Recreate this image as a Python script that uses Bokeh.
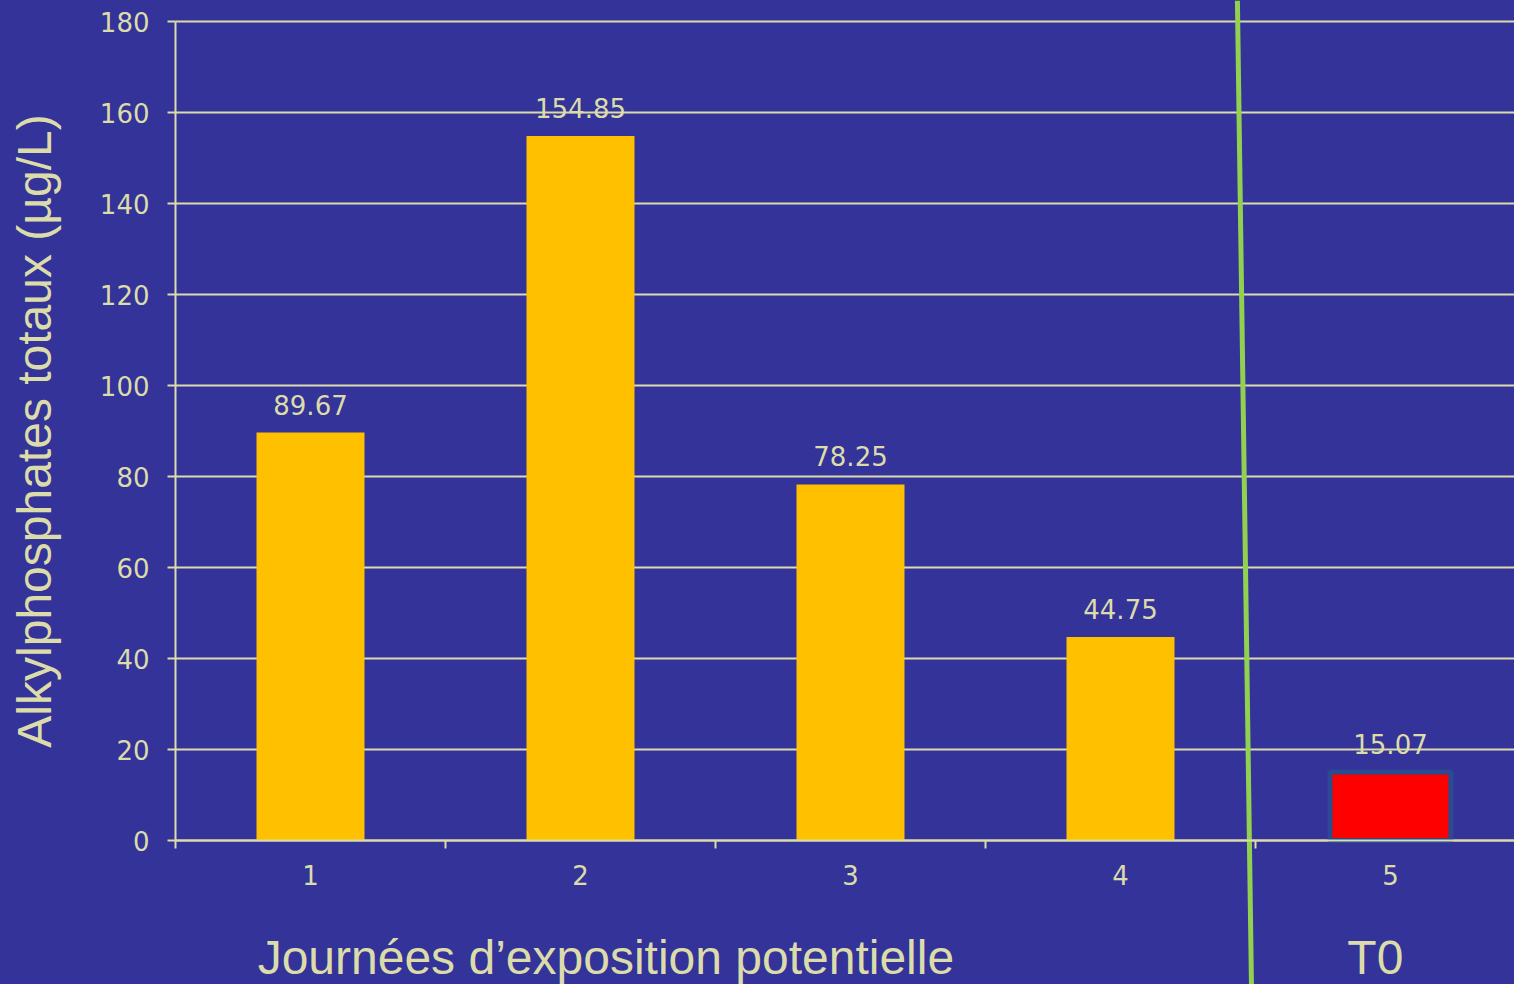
from bokeh.plotting import figure
from bokeh.models import ColumnDataSource, FixedTicker, Range1d, Label, Grid
from bokeh.core.properties import value
from bokeh.embed import file_html
from bokeh.resources import INLINE

# ---- data ----
days = [1, 2, 3, 4]
day_values = [89.67, 154.85, 78.25, 44.75]
t0_day = [5]
t0_value = [15.07]
x_ticks = [1, 2, 3, 4, 5]
x_tick_labels = ["1", "2", "3", "4", "5"]
y_ticks = [0, 20, 40, 60, 80, 100, 120, 140, 160, 180]
y_title = "Alkylphosphates totaux (µg/L)"
group_labels = ["Journées d\u2019exposition potentielle", "T0"]
group_label_x = [2.094, 4.944]
divider_x = [4.433, 4.485]
divider_y = [184.6, -31.6]

BG = "#333399"
FG = "#DCDCAA"

# layout: 270 px per category, 4.55 px per unit
X0, X1 = 0.5 - 175 / 270, 0.5 + 1339 / 270
Y0, Y1 = -144 / 4.55, 180 + 21 / 4.55

p = figure(width=1514, height=984, output_backend="svg", toolbar_location=None,
           x_range=Range1d(X0, X1), y_range=Range1d(Y0, Y1), min_border=0)
p.background_fill_color = BG
p.border_fill_color = BG
p.outline_line_color = None

src = ColumnDataSource(dict(x=days, top=day_values,
                            lab=[f"{v:.2f}" for v in day_values]))
src_t0 = ColumnDataSource(dict(x=t0_day, top=t0_value,
                               lab=[f"{v:.2f}" for v in t0_value]))

# grid lines
p.xgrid.grid_line_color = None
if "cross_bounds" in Grid.properties():
    p.ygrid.ticker = FixedTicker(ticks=y_ticks)
    p.ygrid.cross_bounds = (0.5, X1)
    p.ygrid.grid_line_color = FG
    p.ygrid.grid_line_width = 2
else:
    p.ygrid.grid_line_color = None
    p.segment(x0=[0.5] * len(y_ticks), x1=[X1] * len(y_ticks), y0=y_ticks,
              y1=y_ticks, line_color=FG, line_width=2)

p.vbar(x="x", top="top", width=0.4, source=src, fill_color="#FFC000",
       line_color=None)
p.vbar(x="x", top="top", width=0.448, source=src_t0, fill_color="#FF0000",
       line_color="#2A4A92", line_width=5)

for s in (src, src_t0):
    p.text(x="x", y="top", text="lab", source=s, text_align="center",
           text_baseline="alphabetic", y_offset=-28, text_color=FG,
           text_font=value("DejaVu Sans"), text_font_size="26px")

# axes
p.xaxis.fixed_location = 0
p.xaxis.bounds = (0.5, X1)
p.xaxis.ticker = FixedTicker(ticks=x_ticks, minor_ticks=[t - 0.5 for t in x_ticks])
p.xaxis.major_label_overrides = {t: l for t, l in zip(x_ticks, x_tick_labels)}
p.xaxis.major_tick_out = 0
p.xaxis.major_tick_in = 0
p.xaxis.minor_tick_out = 8
p.xaxis.minor_tick_in = 0
p.xaxis.minor_tick_line_color = FG
p.xaxis.minor_tick_line_width = 2
p.xaxis.major_label_standoff = 16

p.yaxis.fixed_location = 0.5
p.yaxis.bounds = (0, 180)
p.yaxis.ticker = FixedTicker(ticks=y_ticks)
p.yaxis.major_tick_out = 8
p.yaxis.major_tick_in = 0
p.yaxis.minor_tick_line_color = None
p.yaxis.major_label_standoff = 18
p.yaxis.axis_label = y_title
p.yaxis.axis_label_standoff = 36
p.yaxis.axis_label_text_font = "Liberation Sans"
p.yaxis.axis_label_text_font_size = "48px"
p.yaxis.axis_label_text_font_style = "normal"
p.yaxis.axis_label_text_color = FG

for ax in (p.xaxis, p.yaxis):
    ax.axis_line_color = FG
    ax.axis_line_width = 2
    ax.major_tick_line_color = FG
    ax.major_tick_line_width = 2
    ax.major_label_text_color = FG
    ax.major_label_text_font = "DejaVu Sans"
    ax.major_label_text_font_size = "26px"

for txt, gx in zip(group_labels, group_label_x):
    p.add_layout(Label(x=gx, y=-25.7, text=txt, text_align="center",
                       text_baseline="alphabetic", text_color=FG,
                       text_font="Liberation Sans", text_font_size="48px"))

p.line(divider_x, divider_y, line_color="#92D050", line_width=5)

html = file_html(p, INLINE)
html = html.replace("<body>", '<body style="background-color:#333399;">')
open("out.html", "w").write(html)
